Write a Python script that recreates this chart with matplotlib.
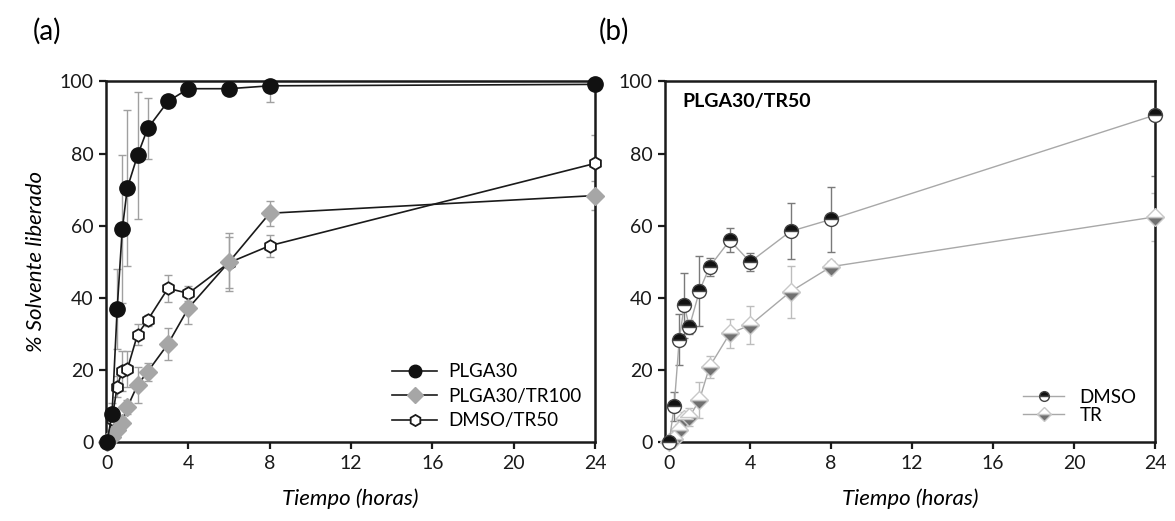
import matplotlib
matplotlib.use("Agg")
import matplotlib.pyplot as plt
from matplotlib.lines import Line2D

plt.rcParams['font.family'] = ['Lato', 'DejaVu Sans']

# tiempos de muestreo (horas)
tiempo = [0, 0.25, 0.5, 0.75, 1, 1.5, 2, 3, 4, 6, 8, 24]

# panel (a)
plga30 = [0, 8, 37, 59, 70.5, 79.5, 87, 94.5, 98, 98, 98.8, 99.2]
plga30_sd = [0, 3, 11, 20.5, 21.5, 17.5, 8.5, 1, 0.5, 0.5, 4.5, 0.5]
tr100 = [0, 1.5, 3.5, 5.5, 9.8, 15.9, 19.6, 27.3, 37.2, 50, 63.5, 68.4]
tr100_sd = [0, 0.5, 1, 1.5, 2, 5, 2.5, 4.5, 4.5, 8, 3.5, 4]
dmso_tr50 = [0, 6.5, 15.5, 19.8, 20.3, 29.9, 33.9, 42.7, 41.3, 49.8, 54.5, 77.3]
dmso_tr50_sd = [0, 1, 3, 5.5, 5, 3, 1.5, 3.7, 2, 7, 3, 8]

# panel (b) PLGA30/TR50
dmso = [0, 10, 28.5, 38, 32, 42, 48.7, 56, 50, 58.5, 61.8, 90.7]
dmso_sd = [0, 4, 7, 9, 2, 9.6, 2.5, 3.3, 2.5, 7.8, 9, 17]
tr = [0, 1, 3.5, 6.5, 7, 11.8, 21, 30.2, 32.5, 41.8, 48.7, 62.5]
tr_sd = [0, 1, 1.5, 2, 2.5, 5, 3, 4, 5.3, 7.2, 1.5, 6.7]

xticks = [0, 4, 8, 12, 16, 20, 24]
yticks = [0, 20, 40, 60, 80, 100]

fig = plt.figure(figsize=(11.75, 5.21), dpi=100)
ax1 = fig.add_axes([0.0902, 0.1507, 0.4162, 0.6929])
ax2 = fig.add_axes([0.566, 0.1507, 0.417, 0.6929])


def style_axes(ax, xmin):
    ax.set_xlim(xmin, 24)
    ax.set_ylim(0, 100)
    ax.set_xticks(xticks)
    ax.set_yticks(yticks)
    for s in ax.spines.values():
        s.set_linewidth(1.8)
        s.set_color('#1a1a1a')
    ax.tick_params(direction='out', length=5, width=1.6, labelsize=14,
                   colors='#1a1a1a', pad=4)
    ax.set_xlabel('Tiempo (horas)', fontsize=16, style='italic', labelpad=12)


def errs(ax, y, sd, color):
    ax.errorbar(tiempo, y, yerr=sd, fmt='none', ecolor=color, elinewidth=1.0,
                capsize=3, capthick=1.0, zorder=2)


# ---- (a)
style_axes(ax1, -0.05)
errs(ax1, plga30, plga30_sd, '#a0a0a0')
errs(ax1, tr100, tr100_sd, '#a0a0a0')
errs(ax1, dmso_tr50, dmso_tr50_sd, '#a0a0a0')
ax1.plot(tiempo, dmso_tr50, '-', color='#1a1a1a', lw=1.2, marker='h', ms=9,
         mfc='white', mec='#1a1a1a', mew=1.3, zorder=3, clip_on=False,
         label='DMSO/TR50')
ax1.plot(tiempo, tr100, '-', color='#1a1a1a', lw=1.2, marker='D', ms=9,
         mfc='#a6a6a6', mec='#a6a6a6', zorder=4, clip_on=False,
         label='PLGA30/TR100')
ax1.plot(tiempo, plga30, '-', color='#1a1a1a', lw=1.2, marker='o', ms=11,
         mfc='#111111', mec='#111111', zorder=5, clip_on=False, label='PLGA30')
ax1.set_ylabel('% Solvente liberado', fontsize=16, style='italic', labelpad=10)
h1 = [Line2D([], [], color='#1a1a1a', lw=1.2, marker='o', ms=9, mfc='#111111', mec='#111111'),
      Line2D([], [], color='#1a1a1a', lw=1.2, marker='D', ms=8, mfc='#a6a6a6', mec='#a6a6a6'),
      Line2D([], [], color='#1a1a1a', lw=1.2, marker='h', ms=8, mfc='white', mec='#1a1a1a', mew=1.3)]
ax1.legend(h1, ['PLGA30', 'PLGA30/TR100', 'DMSO/TR50'], loc='lower right',
           frameon=False, fontsize=13.5, handlelength=2.4, handletextpad=0.6,
           labelspacing=0.4, borderaxespad=0.3, bbox_to_anchor=(1.0, 0.0))
fig.text(0.028, 0.94, '(a)', fontsize=20, va='center')

# ---- (b)
style_axes(ax2, -0.2)
errs(ax2, dmso, dmso_sd, '#7a7a7a')
errs(ax2, tr, tr_sd, '#bdbdbd')
ax2.plot(tiempo, tr, '-', color='#a8a8a8', lw=1.0, marker='D', ms=9,
         fillstyle='bottom', mfc='#707070', mfcalt='white', mec='#c8c8c8',
         mew=1.0, zorder=3, clip_on=False)
ax2.plot(tiempo, dmso, '-', color='#a8a8a8', lw=1.0, marker='o', ms=10,
         fillstyle='top', mfc='#111111', mfcalt='white', mec='#444444',
         mew=1.0, zorder=4, clip_on=False)
ax2.text(0.035, 0.945, 'PLGA30/TR50', transform=ax2.transAxes, fontsize=14,
         fontweight='bold', va='center')
h2 = [Line2D([], [], color='#a8a8a8', lw=1.0, marker='o', ms=7, fillstyle='top',
             mfc='#111111', mfcalt='white', mec='#444444'),
      Line2D([], [], color='#a8a8a8', lw=1.0, marker='D', ms=7, fillstyle='bottom',
             mfc='#707070', mfcalt='white', mec='#c8c8c8')]
ax2.legend(h2, ['DMSO', 'TR'], loc='lower right', frameon=False, fontsize=13.5,
           handlelength=2.2, labelspacing=0.05, borderaxespad=0.6,
           bbox_to_anchor=(1.0, 0.0))
fig.text(0.51, 0.94, '(b)', fontsize=20, va='center')

fig.savefig('out.png', dpi=100)
